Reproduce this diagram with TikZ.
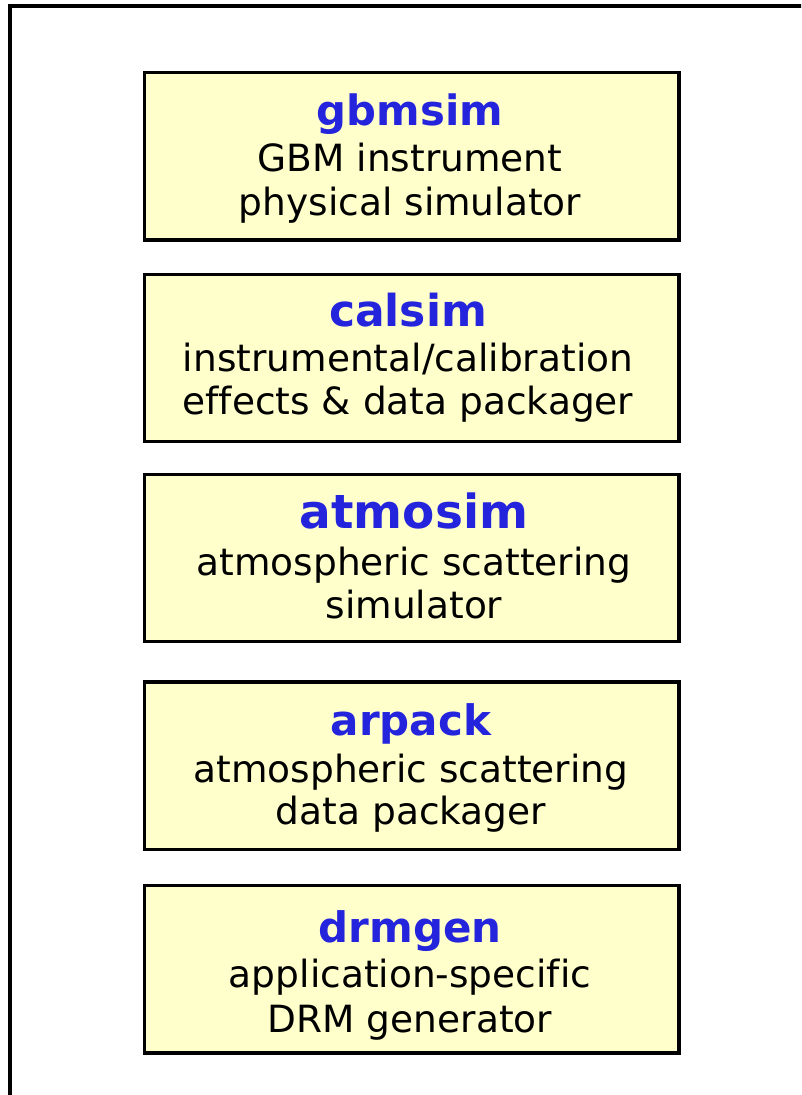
\documentclass[tikz,border=0pt]{standalone}
\usepackage{fontspec}
\setmainfont{DejaVu Sans}[Ligatures=NoCommon]
\definecolor{boxfill}{HTML}{FFFFCC}
\definecolor{titleblue}{HTML}{2424DD}
\tikzset{
  modbox/.style={draw=black, fill=boxfill, line width=3.4pt, minimum width=534.7pt, minimum height=167.5pt, inner sep=0pt},
  titletext/.style={anchor=base, text=titleblue, font=\bfseries\fontsize{#1}{#1}\selectfont, inner sep=0pt},
  bodytext/.style={anchor=base, font=\fontsize{37.5}{37.5}\selectfont, inner sep=0pt},
  frameline/.style={draw=black, line width=3.6pt}
}
\begin{document}
\begin{tikzpicture}[x=1pt,y=-1pt]
\clip (0,0) rectangle (801,1095);
\coordinate (fa) at (10,1120);
\coordinate (fb) at (10,5.8);
\coordinate (fc) at (830,5.8);
\draw[frameline] (fa) -- (fb) -- (fc);

\node[modbox] (b1) at (411.65,156.25) {};
\node[titletext=41.8] (t1) at (410,125) {gbmsim};
\node[bodytext] (d1a) at (410,171.7) {GBM instrument};
\node[bodytext] (d1b) at (410,215) {physical simulator};

\node[modbox] (b2) at (411.65,358) {};
\node[titletext=44] (t2) at (408,326) {calsim};
\node[bodytext] (d2a) at (408,371.7) {instrumental/calibration};
\node[bodytext] (d2b) at (408,414) {effects \& data packager};

\node[modbox] (b3) at (411.65,558) {};
\node[titletext=47] (t3) at (414,528.3) {atmosim};
\node[bodytext] (d3a) at (414,575) {atmospheric scattering};
\node[bodytext] (d3b) at (414,618.3) {simulator};

\node[modbox] (b4) at (411.65,765.75) {};
\node[titletext=42] (t4) at (411,735.3) {arpack};
\node[bodytext] (d4a) at (411,782) {atmospheric scattering};
\node[bodytext] (d4b) at (411,824.7) {data packager};

\node[modbox] (b5) at (411.65,969.25) {};
\node[titletext=42] (t5) at (410,942.7) {drmgen};
\node[bodytext] (d5a) at (410,987.7) {application-specific};
\node[bodytext] (d5b) at (410,1032) {DRM generator};
\end{tikzpicture}
\end{document}
